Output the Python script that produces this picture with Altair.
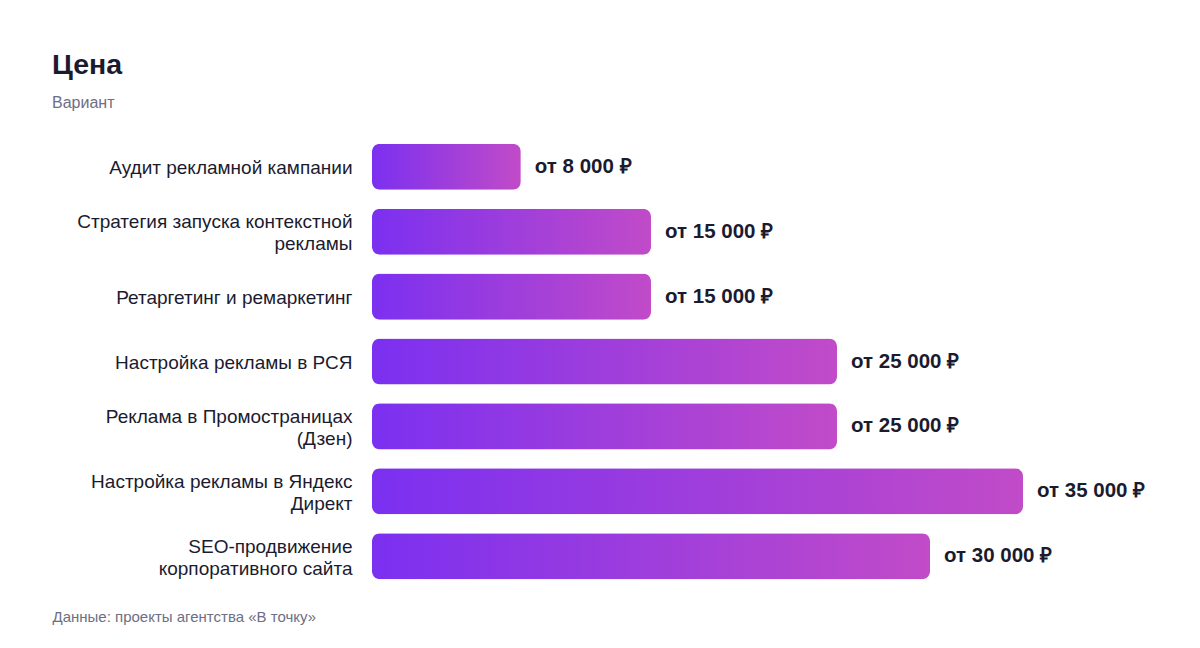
"""
Price chart: horizontal gradient bars with value labels.
"""
import pandas as pd
import altair as alt

# Services (use "|" for a line break in the axis label).
services = ["Аудит рекламной кампании",
            "Стратегия запуска контекстной|рекламы",
            "Ретаргетинг и ремаркетинг",
            "Настройка рекламы в РСЯ",
            "Реклама в Промостраницах|(Дзен)",
            "Настройка рекламы в Яндекс|Директ",
            "SEO-продвижение|корпоративного сайта"]
# Minimal prices, roubles.
prices = [8000, 15000, 15000, 25000, 25000, 35000, 30000]
# Value labels.
priceLabels = ["от 8 000 ₽", "от 15 000 ₽", "от 15 000 ₽", "от 25 000 ₽",
               "от 25 000 ₽", "от 35 000 ₽", "от 30 000 ₽"]

data = pd.DataFrame({"service": services, "price": prices, "label": priceLabels})

font = "Liberation Sans"
dark = "#1b1b2f"
grey = "#6e6e85"

# Purple to magenta fill, per bar.
gradient = alt.Gradient(
    gradient="linear",
    stops=[alt.GradientStop(color="#7b30f0", offset=0),
           alt.GradientStop(color="#c14bc8", offset=1)],
    x1=0, x2=1, y1=0, y2=0
)

# Two-line labels are moved up half a line so they sit centred on the bar.
yEnc = alt.Y("service:N", sort=services,
             scale=alt.Scale(paddingInner=0.29, paddingOuter=0.15),
             axis=alt.Axis(title=None, domain=False, ticks=False,
                           labelExpr="split(datum.label, '|')",
                           labelOffset={"condition": {"test": "indexof(datum.value, '|') >= 0",
                                                      "value": -9.5},
                                        "value": 1},
                           labelFont=font, labelFontSize=19, labelColor=dark,
                           labelLineHeight=22, labelPadding=20, labelLimit=400))

xEnc = alt.X("price:Q", scale=alt.Scale(domain=[0, 35000], nice=False),
             axis=alt.Axis(labels=False, ticks=False, domain=False, grid=False,
                           title="Данные: проекты агентства «В точку»",
                           titleFont=font, titleFontSize=15, titleFontWeight="normal",
                           titleColor=grey, titleAnchor="start", titleAlign="left",
                           titleX=-320, titleY=20))

# Bars.
bars = alt.Chart(data).mark_bar(cornerRadius=8, color=gradient).encode(
    x=xEnc,
    y=yEnc
)

# Value labels at bar ends.
text = alt.Chart(data).mark_text(
    align="left", baseline="middle", dx=14,
    font=font, fontSize=20.5, fontWeight="bold", color=dark
).encode(
    x="price:Q",
    y=alt.Y("service:N", sort=services),
    text="label:N"
)

chart = (bars + text).properties(
    width=651,
    height=455,
    autosize=alt.AutoSizeParams(type="none"),
    padding={"left": 364, "top": 126, "right": 160, "bottom": 50},
    title=alt.TitleParams(
        text="Цена",
        subtitle="Вариант",
        anchor="start",
        frame="group",
        dx=-320,
        offset=23,
        font=font, fontSize=28.5, fontWeight="bold", color=dark,
        subtitleFont=font, subtitleFontSize=16, subtitleColor=grey,
        subtitlePadding=16
    )
).configure_view(stroke=None)

chart.save("out.html", embed_options={"renderer": "svg", "actions": False})
